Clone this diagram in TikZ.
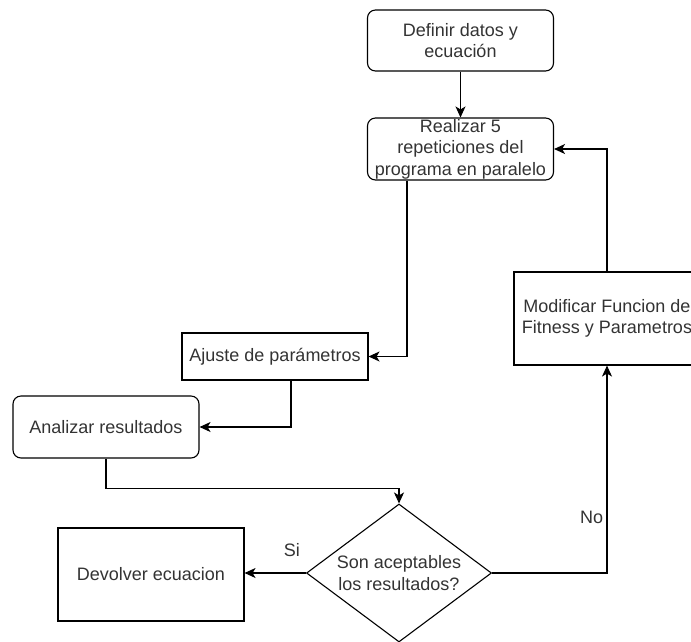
\documentclass[tikz,border=0pt]{standalone}
\usepackage{fontspec}
\setmainfont{Liberation Sans}
\usetikzlibrary{arrows.meta,shapes.geometric,calc}
\begin{document}
\begin{tikzpicture}[x=1pt, y=-1pt,
  every node/.style={font=\fontsize{18}{21.6}\selectfont, text=black!80},
  box/.style={draw, line width=1.1pt, inner sep=0pt, align=center,
    minimum width=186pt, minimum height=62pt},
  roundbox/.style={box, rounded corners=8pt},
  decision/.style={draw, line width=1.1pt, diamond, inner sep=0pt,
    minimum width=185pt, minimum height=138pt},
  link/.style={line width=1.1pt, -{Stealth[length=11pt, width=10pt, inset=3pt]}}]
\useasboundingbox (0,0) rectangle (691,641);
\node[roundbox, minimum height=61pt] (defin) at (460.5,40.5) {Definir datos y\\ecuación};
\node[roundbox] (repet) at (460.5,149) {Realizar 5\\repeticiones del\\programa en paralelo};
\node[box, minimum height=47pt] (ajuste) at (275,356.5) {Ajuste de parámetros};
\node[roundbox] (analiz) at (106,427) {Analizar resultados};
\node[decision, label={[align=center]center:Son aceptables\\los resultados?}] (acept) at (399,573) {};
\node[box, minimum height=93pt] (devol) at (151,574.5) {Devolver ecuacion};
\node[box, minimum height=93pt] (modif) at (607,318.5) {Modificar Funcion de\\Fitness y Parametros};
\draw[link] (defin) -- (repet);
\draw[link] ([xshift=-53.5pt]repet.south) |- (ajuste.east);
\draw[link] ([xshift=16pt]ajuste.south) |- (analiz.east);
\draw[link] (analiz.south) -- ++(0,30) -| (acept.north);
\draw[link] (acept.west) -- (acept.west -| devol.east) node[above=12pt, pos=0.23] {Si};
\draw[link] (acept.east) -| (modif.south) node[left, pos=0.635] {No};
\draw[link] (modif.north) |- (repet.east);
\end{tikzpicture}
\end{document}
